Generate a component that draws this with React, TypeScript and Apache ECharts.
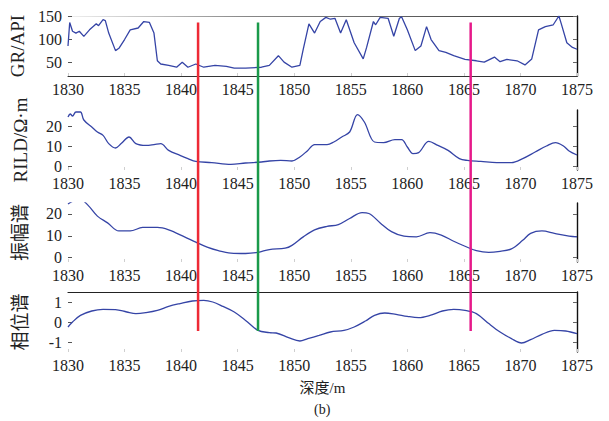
import React, { useEffect, useRef } from "react";
import * as echarts from "echarts";

const depthMin = 1830;
const depthMax = 1875;
const depthStep = 5;

const panelNames = ["GR/API", "RILD/Ω·m", "振幅谱", "相位谱"];
const xAxisName = "深度/m";
const captionText = "(b)";

const grRange = [20, 150];
const rildRange = [-2, 28];
const ampRange = [-2, 25];
const phaseRange = [-1.5, 1.5];

const grTicks = [50, 100, 150];
const rildTicks = [0, 10, 20];
const ampTicks = [0, 10, 20];
const phaseTicks = [-1, 0, 1];

const grLog = [
  [1830, 85], [1830.15, 136], [1830.4, 117], [1830.7, 113], [1831, 117], [1831.4, 106],
  [1831.9, 120], [1832.5, 133], [1832.7, 129], [1833.1, 142], [1833.3, 140], [1833.6, 113],
  [1834.2, 75], [1834.5, 80], [1835, 99], [1835.5, 120], [1836.2, 124], [1836.7, 138],
  [1837.2, 136], [1837.6, 113], [1837.9, 53], [1838.2, 46], [1838.9, 43], [1839.6, 39],
  [1840.1, 50], [1840.6, 39], [1841.3, 46], [1842, 39], [1843, 43], [1844, 41],
  [1844.7, 37], [1845.7, 37], [1847.1, 39], [1847.8, 43], [1848.6, 64], [1849.1, 50],
  [1849.8, 39], [1850.5, 43], [1850.8, 78], [1851.3, 133], [1851.8, 113], [1852.3, 138],
  [1852.8, 147], [1853.2, 143], [1853.6, 145], [1854.1, 113], [1854.6, 142], [1855.3, 92],
  [1856.1, 57], [1856.4, 82], [1857, 138], [1857.2, 131], [1857.6, 147], [1858.3, 145],
  [1858.8, 106], [1859.3, 145], [1859.5, 148], [1860, 120], [1860.7, 75], [1861.2, 85],
  [1861.7, 127], [1862.1, 99], [1862.8, 75], [1863.4, 71], [1864.1, 64], [1865.1, 56],
  [1866.1, 53], [1866.8, 50], [1867.7, 61], [1868.2, 51], [1868.8, 56], [1869.7, 53],
  [1870.4, 44], [1871, 57], [1871.6, 120], [1872.2, 127], [1872.9, 131], [1873.4, 150],
  [1873.6, 134], [1874.1, 92], [1874.6, 82], [1875, 78],
];

const rildLog = [
  [1830, 24.5], [1830.2, 26], [1830.4, 25], [1830.7, 27], [1831.1, 27], [1831.4, 23],
  [1832.1, 19.5], [1832.6, 17], [1833.1, 15.3], [1833.6, 11.2], [1834.2, 9], [1834.7, 11.2],
  [1835.4, 14.5], [1836, 11.2], [1836.9, 10.3], [1837.6, 10.7], [1838.2, 11.2], [1838.9, 7.8],
  [1839.9, 5.3], [1840.6, 3.7], [1841.3, 2.3], [1842.7, 1.7], [1844.4, 0.8], [1845.7, 1.5],
  [1847.1, 2], [1847.8, 2.5], [1848.8, 2.8], [1849.8, 2.5], [1850.5, 4.5], [1851.2, 7.8],
  [1851.8, 10.7], [1852.9, 10.7], [1853.5, 12], [1854.2, 14.5], [1854.9, 17], [1855.6, 25.7],
  [1856.2, 22], [1857.1, 12], [1857.9, 11.7], [1858.9, 13.2], [1859.5, 13.2], [1860, 9.5],
  [1860.5, 6.2], [1861, 6.7], [1861.9, 12.3], [1862.7, 10.3], [1863.6, 7.8], [1864.6, 3.7],
  [1865.3, 2.8], [1866.5, 2.3], [1867.9, 1.7], [1869.2, 1.7], [1870.2, 3.7], [1871.3, 7],
  [1872.3, 10], [1873.1, 11.7], [1873.8, 10], [1874.3, 7.5], [1875, 5.5],
];

const ampSpectrum = [
  [1830, 24.5], [1830.5, 26], [1831.1, 26.5], [1831.8, 23.8], [1832.6, 19], [1833.5, 15.9],
  [1834.5, 12.2], [1835.5, 12.2], [1836.6, 13.8], [1837.9, 13.8], [1838.9, 12.7], [1840.3, 9.5],
  [1841.3, 7.1], [1842.3, 4.8], [1843.3, 3.2], [1844.4, 2.1], [1845.7, 1.9], [1846.8, 2.4],
  [1847.8, 3.7], [1849.2, 4.3], [1849.8, 5.6], [1850.8, 9.5], [1851.8, 12.7], [1852.9, 14.3],
  [1853.9, 15.1], [1854.9, 17.9], [1856, 20.6], [1856.6, 20.2], [1857.6, 15.9], [1858.6, 11.9],
  [1859.7, 9.8], [1860.8, 9.5], [1862, 11.4], [1863, 10.3], [1864.1, 7.5], [1865.1, 5.2],
  [1866.1, 3.2], [1867.2, 2.4], [1868.2, 2.9], [1869.2, 4], [1870.2, 7.9], [1870.9, 11.1],
  [1871.9, 12.2], [1873, 11.1], [1874.3, 9.8], [1875, 9.5],
];

const phaseSpectrum = [
  [1830, -0.25], [1830.4, 0], [1831.1, 0.33], [1832.1, 0.55], [1833.1, 0.63], [1834.2, 0.62],
  [1835.2, 0.5], [1836, 0.42], [1836.9, 0.47], [1837.9, 0.58], [1838.9, 0.78], [1839.9, 0.92],
  [1841, 1.05], [1842, 1.08], [1842.8, 1.0], [1843.7, 0.78], [1844.7, 0.5], [1845.7, 0.08],
  [1846.8, -0.42], [1847.8, -0.53], [1848.4, -0.55], [1849.5, -0.78], [1850.5, -0.95], [1851.2, -0.83],
  [1852.2, -0.67], [1853.2, -0.5], [1854.4, -0.42], [1855.3, -0.25], [1856.3, 0.05], [1857.1, 0.33],
  [1858, 0.45], [1859, 0.38], [1860, 0.28], [1861, 0.22], [1862, 0.33], [1863.1, 0.55],
  [1864.1, 0.63], [1865.1, 0.58], [1866.1, 0.42], [1867.2, -0.08], [1868.2, -0.5], [1869.2, -0.83],
  [1870.1, -1.05], [1870.9, -0.88], [1871.9, -0.62], [1873, -0.42], [1874, -0.45], [1875, -0.58],
];

const markerDepths = [1841.5, 1846.8, 1865.6];
const markerColors = ["#ee2a35", "#1a9a4a", "#e6198a"];
const markerTopGR = 136;
const markerBottomPhase = -0.45;

const SERIF = "'Liberation Serif', 'DejaVu Serif', 'Noto Sans CJK SC', serif";
const CURVE = "#3544a6";

export default function App() {
  const ref = useRef<HTMLDivElement>(null);

  useEffect(() => {
    if (!ref.current) return;
    const chart = echarts.init(ref.current, null, { renderer: "svg" });

    const grids = [
      { left: 68, right: 32, top: 16, height: 60 },
      { left: 68, right: 32, top: 110, height: 60 },
      { left: 68, right: 32, top: 203, height: 59 },
      { left: 68, right: 32, top: 292, height: 60 },
    ];
    const ranges = [grRange, rildRange, ampRange, phaseRange];
    const ticks = [grTicks, rildTicks, ampTicks, phaseTicks];
    const datasets = [grLog, rildLog, ampSpectrum, phaseSpectrum];

    const bottomX = grids.map((_, i) => ({
      gridIndex: i,
      type: "value",
      position: "bottom",
      min: depthMin,
      max: depthMax,
      interval: depthStep,
      axisLine: { show: i === 0, onZero: false, lineStyle: { color: "#333", width: 1 } },
      axisTick: { show: true, inside: true, length: 3, lineStyle: { color: "#cfcfcf" } },
      axisLabel: {
        margin: 5,
        fontFamily: SERIF,
        fontSize: 16,
        color: "#222",
        formatter: (v: number) => String(v),
      },
      splitLine: { show: false },
      ...(i === 3
        ? {
            name: xAxisName,
            nameLocation: "middle",
            nameGap: 28,
            nameTextStyle: { fontFamily: SERIF, fontSize: 15, color: "#222" },
          }
        : {}),
    }));

    const topX = [0, 3].map((gi) => ({
      gridIndex: gi,
      type: "value",
      position: "top",
      min: depthMin,
      max: depthMax,
      interval: depthStep,
      axisLine: {
        show: true,
        onZero: false,
        lineStyle: {
          color:
            gi === 0
              ? new echarts.graphic.LinearGradient(68, 0, 577, 0, [
                  { offset: 0, color: "#f0f0f0" },
                  { offset: 0.35, color: "#888" },
                  { offset: 1, color: "#333" },
                ], true)
              : "#222",
          width: 1.2,
        },
      },
      axisTick: { show: false },
      axisLabel: { show: false },
      splitLine: { show: false },
    }));

    const leftY = grids.map((_, i) => ({
      gridIndex: i,
      type: "value",
      position: "left",
      min: ranges[i][0],
      max: ranges[i][1],
      axisLine: { show: false, onZero: false },
      axisTick: {
        show: true,
        inside: true,
        length: 4,
        customValues: ticks[i],
        lineStyle: { color: "#555" },
      },
      axisLabel: {
        customValues: ticks[i],
        margin: 6,
        fontFamily: SERIF,
        fontSize: 16,
        color: "#222",
        formatter: (v: number) => String(v),
      },
      splitLine: { show: false },
      name: panelNames[i],
      nameLocation: "middle",
      nameGap: 38,
      nameTextStyle: { fontFamily: SERIF, fontSize: 19, color: "#222" },
    }));

    const rightY = grids.map((_, i) => ({
      gridIndex: i,
      type: "value",
      position: "right",
      min: ranges[i][0],
      max: ranges[i][1],
      axisLine: { show: true, onZero: false, lineStyle: { color: "#111", width: 1.4 } },
      axisTick: {
        show: true,
        inside: true,
        length: 4,
        customValues: ticks[i],
        lineStyle: { color: "#666" },
      },
      axisLabel: { show: false },
      splitLine: { show: false },
    }));

    const series = datasets.map((d, i) => ({
      type: "line",
      xAxisIndex: i,
      yAxisIndex: i,
      data: d,
      showSymbol: false,
      smooth: i === 0 ? false : 0.35,
      lineStyle: { color: CURVE, width: 1.3 },
      itemStyle: { color: CURVE },
    }));

    chart.setOption({
      animation: false,
      backgroundColor: "#ffffff",
      title: {
        text: captionText,
        left: 309,
        top: 397,
        textStyle: { fontFamily: SERIF, fontSize: 14, fontWeight: "normal", color: "#222" },
      },
      grid: grids,
      xAxis: [...bottomX, ...topX],
      yAxis: [...leftY, ...rightY],
      series,
    });

    const yTop = chart.convertToPixel({ yAxisIndex: 0 }, markerTopGR) as number;
    const yBot = chart.convertToPixel({ yAxisIndex: 3 }, markerBottomPhase) as number;
    const graphic = markerDepths.map((d, k) => {
      const x = chart.convertToPixel({ xAxisIndex: 0 }, d) as number;
      return {
        type: "line",
        z: 100,
        shape: { x1: x, y1: yTop, x2: x, y2: yBot },
        style: { stroke: markerColors[k], lineWidth: 2.5 },
      };
    });
    chart.setOption({ graphic });

    return () => chart.dispose();
  }, []);

  return (
    <div
      ref={ref}
      style={{ position: "fixed", left: 0, top: 0, width: 609, height: 421, background: "#fff" }}
    />
  );
}
